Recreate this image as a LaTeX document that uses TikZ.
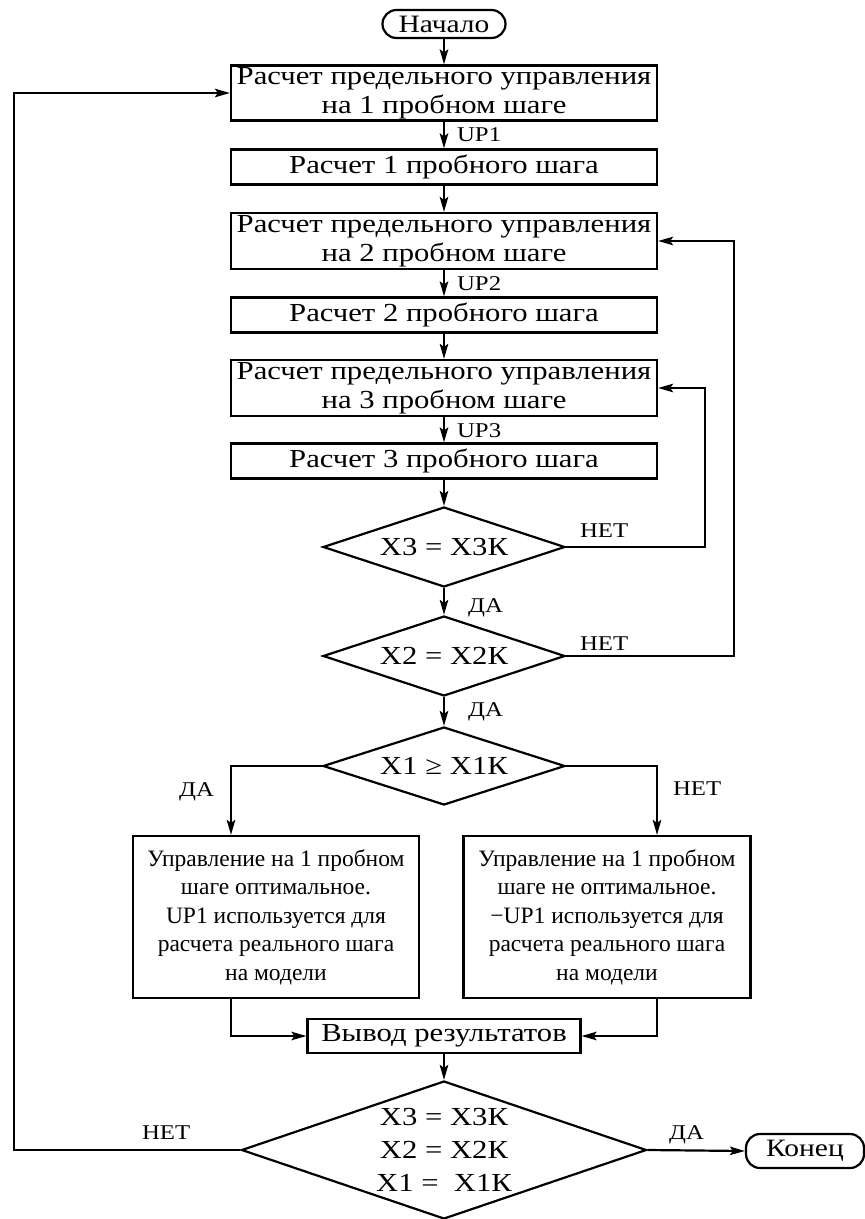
\documentclass[tikz,border=0pt]{standalone}
\usepackage{fontspec}
\setmainfont{Liberation Serif}[FakeStretch=1.18]
\newfontfamily\plainserif{Liberation Serif}
\usetikzlibrary{shapes.geometric,arrows.meta}
\begin{document}
\begin{tikzpicture}[x=1pt,y=-1pt,
  line width=2.2pt,
  arr/.style={-{Stealth[length=15pt,width=8.5pt,inset=3pt]}},
  box/.style={draw, rectangle, inner sep=0pt, align=center, font=\fontsize{26}{29}\selectfont},
  bigbox/.style={draw, rectangle, inner sep=0pt, align=center, font=\plainserif\fontsize{23.5}{28.5}\selectfont},
  term/.style={draw, rectangle, rounded corners=14pt, inner sep=0pt, font=\fontsize{25}{28}\selectfont},
  dec/.style={draw, diamond, aspect=3, inner sep=0pt, align=center, font=\fontsize{26}{33}\selectfont},
  lab/.style={inner sep=0pt, anchor=base west, font=\fontsize{21}{24}\selectfont}]
\useasboundingbox (0,0) rectangle (865,1219);

% nodes
\node[term, minimum width=123pt, minimum height=28pt] (start) at (444,24) {Начало};
\node[box, minimum width=426pt, minimum height=55pt] (b1) at (444,93) {Расчет предельного управления\\на 1 пробном шаге};
\node[box, minimum width=426pt, minimum height=35pt] (b2) at (444,167) {Расчет 1 пробного шага};
\node[box, minimum width=426pt, minimum height=56pt] (b3) at (444,241) {Расчет предельного управления\\на 2 пробном шаге};
\node[box, minimum width=426pt, minimum height=35pt] (b4) at (444,315) {Расчет 2 пробного шага};
\node[box, minimum width=426pt, minimum height=56pt] (b5) at (444,388) {Расчет предельного управления\\на 3 пробном шаге};
\node[box, minimum width=426pt, minimum height=35pt] (b6) at (444,461) {Расчет 3 пробного шага};
\node[dec, minimum width=242pt, minimum height=80pt] (d1) at (444,547) {X3 = X3К};
\node[dec, minimum width=242pt, minimum height=80pt] (d2) at (444,656) {X2 = X2К};
\node[dec, minimum width=242pt, minimum height=78pt] (d3) at (444,766) {X1 ≥ X1К};
\node[bigbox, minimum width=286pt, minimum height=162pt] (bl) at (276,917) {Управление на 1 пробном\\шаге оптимальное.\\UP1 используется для\\расчета реального шага\\на модели};
\node[bigbox, minimum width=287pt, minimum height=162pt] (br) at (607,917) {Управление на 1 пробном\\шаге не оптимальное.\\−UP1 используется для\\расчета реального шага\\на модели};
\node[box, minimum width=273pt, minimum height=34pt] (out) at (444,1036) {Вывод результатов};
\node[dec, aspect=2.9, minimum width=405pt, minimum height=138pt] (d4) at (444,1150) {X3 = X3К\\X2 = X2К\\X1 =\ \ X1К};
\node[term, minimum width=118pt, minimum height=34pt] (end) at (805,1151) {Конец};

% helper coordinates
\coordinate (xL) at (14,0);
\coordinate (x2) at (734,0);
\coordinate (x3) at (705,0);
\coordinate (xbl) at (231,0);
\coordinate (xbr) at (657,0);

% main flow
\draw[arr] (start) -- (b1);
\draw[arr] (b1) -- (b2);
\draw[arr] (b2) -- (b3);
\draw[arr] (b3) -- (b4);
\draw[arr] (b4) -- (b5);
\draw[arr] (b5) -- (b6);
\draw[arr] (b6) -- (d1);
\draw[arr] (d1) -- (d2);
\draw[arr] (d2) -- (d3);
\draw[arr] (d3.west) -| (xbl |- bl.north);
\draw[arr] (d3.east) -| (xbr |- br.north);
\draw[arr] (xbl |- bl.south) |- (out.west);
\draw[arr] (xbr |- br.south) |- (out.east);
\draw[arr] (out) -- (d4);
\draw[arr] (d4.east) -- (end.west);

% feedback
\draw[arr] (d1.east) -| (x3 |- b5.east) -- (b5.east);
\draw[arr] (d2.east) -| (x2 |- b3.east) -- (b3.east);
\draw[arr] (d4.west) -| (xL |- b1.west) -- (b1.west);

% labels
\node[lab] (lu1) at (456,141) {UP1};
\node[lab] (lu2) at (456,290) {UP2};
\node[lab] (lu3) at (456,437) {UP3};
\node[lab] (ly1) at (467,612) {ДА};
\node[lab] (ly2) at (467,716) {ДА};
\node[lab] (ln1) at (579,537) {НЕТ};
\node[lab] (ln2) at (579,650) {НЕТ};
\node[lab] (ly3) at (178,796) {ДА};
\node[lab] (ln3) at (672,795) {НЕТ};
\node[lab] (ln4) at (141,1139) {НЕТ};
\node[lab] (ly4) at (668,1139) {ДА};
\end{tikzpicture}
\end{document}
